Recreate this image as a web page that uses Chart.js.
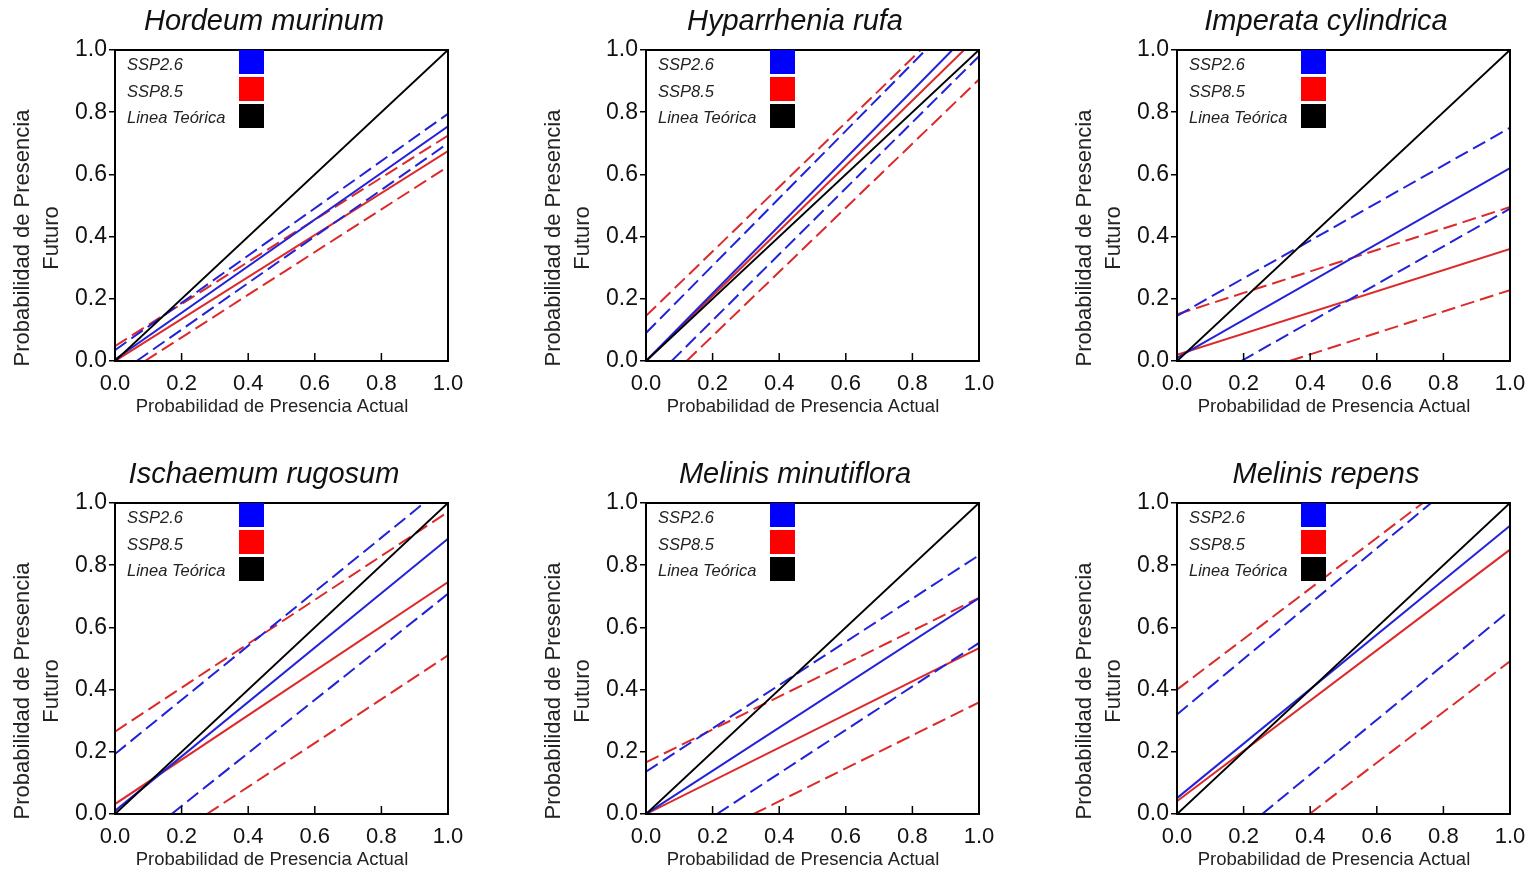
<!DOCTYPE html>
<html>
<head>
<meta charset="utf-8">
<script src="https://cdn.jsdelivr.net/npm/chart.js@4.4.1/dist/chart.umd.min.js"></script>
<style>
  html, body { margin: 0; padding: 0; background: #fff; overflow: hidden; }
  #wrap { position: relative; width: 1534px; height: 873px; }
  #wrap canvas { position: absolute; }
</style>
</head>
<body>
<div id="wrap"></div>
<script>
const FONT = '"Liberation Sans", Arial, sans-serif';

const axisTicks = [0, 0.2, 0.4, 0.6, 0.8, 1.0];
const species = [
  "Hordeum murinum",
  "Hyparrhenia rufa",
  "Imperata cylindrica",
  "Ischaemum rugosum",
  "Melinis minutiflora",
  "Melinis repens",
];
const legendLabels = ["SSP2.6", "SSP8.5", "Linea Teórica"];
const xTitle = "Probabilidad de Presencia Actual";
const yTitle = ["Probabilidad de Presencia", "Futuro"];

// end points of each line, [x0, y0, x1, y1], one entry per species
const ssp26Fit = [
  [0, 0.005, 1, 0.755],
  [0, 0, 0.92, 1],
  [0, 0.01, 1, 0.62],
  [0, 0.01, 1, 0.885],
  [0, 0, 1, 0.694],
  [0, 0.051, 1, 0.927],
];
const ssp26Upper = [
  [0, 0.035, 1, 0.795],
  [0, 0.09, 0.84, 1],
  [0, 0.145, 1, 0.75],
  [0, 0.193, 0.928, 1],
  [0, 0.136, 1, 0.832],
  [0, 0.32, 0.763, 1],
];
const ssp26Lower = [
  [0.065, 0, 1, 0.7],
  [0.077, 0, 1, 0.98],
  [0.193, 0, 1, 0.49],
  [0.17, 0, 1, 0.708],
  [0.213, 0, 1, 0.55],
  [0.256, 0, 1, 0.655],
];
const ssp85Fit = [
  [0, 0, 1, 0.675],
  [0, 0, 0.955, 1],
  [0, 0.02, 1, 0.36],
  [0, 0.032, 1, 0.746],
  [0, 0, 1, 0.533],
  [0, 0.041, 1, 0.85],
];
const ssp85Upper = [
  [0, 0.048, 1, 0.725],
  [0, 0.145, 0.825, 1],
  [0, 0.15, 1, 0.495],
  [0, 0.265, 1, 0.971],
  [0, 0.166, 1, 0.695],
  [0, 0.4, 0.738, 1],
];
const ssp85Lower = [
  [0.09, 0, 1, 0.625],
  [0.122, 0, 1, 0.905],
  [0.338, 0, 1, 0.228],
  [0.276, 0, 1, 0.51],
  [0.323, 0, 1, 0.359],
  [0.398, 0, 1, 0.491],
];
const theoretical = [0, 0, 1, 1];

const BLUE = "#2222d8";
const RED = "#dc2a2a";
const legendColors = ["#0000ff", "#ff0000", "#000000"];

const PANEL_W = 531, PANEL_H = 453, CANVAS_H = 436;
const PLOT_LEFT = 115, PLOT_RIGHT = 448, PLOT_TOP = 50, PLOT_BOTTOM = 361;

function seg(p) {
  return [{ x: p[0], y: p[1] }, { x: p[2], y: p[3] }];
}

function lineSet(label, p, color, dashed) {
  return {
    label,
    data: seg(p),
    borderColor: color,
    borderWidth: 2,
    borderDash: dashed ? [14, 6] : [],
    pointRadius: 0,
    showLine: true,
    fill: false,
  };
}

// frame, inward x ticks, titles and the colour key
const panelDecor = {
  id: "panelDecor",
  afterDraw(chart, args, opts) {
    const { ctx, chartArea: a, scales } = chart;
    ctx.save();
    ctx.strokeStyle = "#000";
    ctx.lineWidth = 2;
    ctx.strokeRect(a.left, a.top, a.right - a.left, a.bottom - a.top);

    ctx.lineWidth = 1.5;
    axisTicks.slice(1, -1).forEach((v) => {
      const px = scales.x.getPixelForValue(v);
      ctx.beginPath();
      ctx.moveTo(px, a.bottom);
      ctx.lineTo(px, a.bottom - 8);
      ctx.stroke();
    });

    ctx.fillStyle = "#111";
    ctx.textAlign = "center";
    ctx.textBaseline = "middle";
    ctx.font = "italic 29px " + FONT;
    ctx.fillText(opts.title, 264, 22);

    ctx.fillStyle = "#222";
    ctx.font = "18.5px " + FONT;
    ctx.fillText(xTitle, 272, 407);

    ctx.save();
    ctx.translate(23, 238);
    ctx.rotate(-Math.PI / 2);
    ctx.font = "22px " + FONT;
    yTitle.forEach((t, k) => ctx.fillText(t, 0, k * 29));
    ctx.restore();

    ctx.textAlign = "left";
    ctx.font = "italic 16.5px " + FONT;
    legendLabels.forEach((lab, i) => {
      ctx.fillStyle = "#222";
      ctx.fillText(lab, a.left + 12, a.top + 15.5 + i * 26.5);
      ctx.fillStyle = legendColors[i];
      ctx.fillRect(a.left + 124, a.top + i * 27, 25, 24);
    });
    ctx.restore();
  },
};

const wrap = document.getElementById("wrap");

species.forEach((name, i) => {
  const col = i % 3, row = Math.floor(i / 3);
  const cv = document.createElement("canvas");
  cv.width = PANEL_W;
  cv.height = CANVAS_H;
  cv.style.left = col * PANEL_W + "px";
  cv.style.top = row * PANEL_H + "px";
  wrap.appendChild(cv);

  new Chart(cv, {
    type: "scatter",
    data: {
      datasets: [
        lineSet("Linea Teórica", theoretical, "#000", false),
        lineSet("SSP2.6", ssp26Fit[i], BLUE, false),
        lineSet("SSP2.6 sup", ssp26Upper[i], BLUE, true),
        lineSet("SSP2.6 inf", ssp26Lower[i], BLUE, true),
        lineSet("SSP8.5", ssp85Fit[i], RED, false),
        lineSet("SSP8.5 sup", ssp85Upper[i], RED, true),
        lineSet("SSP8.5 inf", ssp85Lower[i], RED, true),
      ],
    },
    options: {
      responsive: false,
      animation: false,
      devicePixelRatio: 1,
      layout: {
        padding: { left: 0, top: PLOT_TOP, right: PANEL_W - PLOT_RIGHT, bottom: 0 },
      },
      plugins: {
        legend: { display: false },
        tooltip: { enabled: false },
        panelDecor: { title: name },
      },
      scales: {
        x: {
          type: "linear",
          min: 0,
          max: 1,
          afterBuildTicks: (s) => { s.ticks = axisTicks.map((v) => ({ value: v })); },
          afterFit: (s) => { s.height = CANVAS_H - PLOT_BOTTOM; },
          ticks: {
            padding: 10,
            color: "#111",
            font: { family: FONT, size: 22 },
            callback: (v) => Number(v).toFixed(1),
          },
          grid: { display: false, drawTicks: false },
          border: { display: true, color: "#000", width: 2 },
        },
        y: {
          type: "linear",
          min: 0,
          max: 1,
          afterBuildTicks: (s) => { s.ticks = axisTicks.map((v) => ({ value: v })); },
          afterFit: (s) => { s.width = PLOT_LEFT; },
          ticks: {
            padding: 2,
            color: "#111",
            font: { family: FONT, size: 23 },
            callback: (v) => Number(v).toFixed(1),
          },
          grid: { drawOnChartArea: false, drawTicks: true, tickLength: 6, color: "#000", lineWidth: 1.5 },
          border: { display: true, color: "#000", width: 2 },
        },
      },
    },
    plugins: [panelDecor],
  });
});
</script>
</body>
</html>
